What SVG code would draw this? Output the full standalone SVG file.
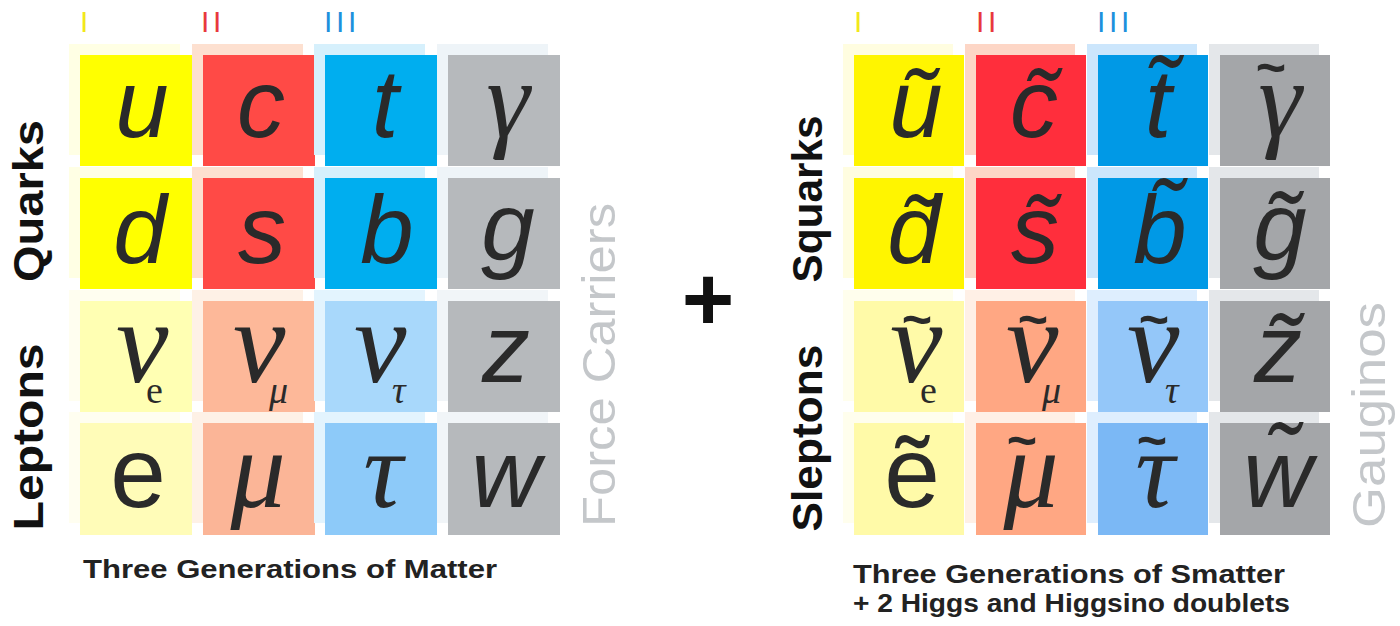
<svg xmlns="http://www.w3.org/2000/svg" width="1400" height="626" viewBox="0 0 1400 626">
<style>
.lat{font-family:"Liberation Sans",Arial,sans-serif;font-style:italic;font-size:96px;fill:#2a2a2a;text-anchor:middle}
.up{font-family:"Liberation Sans",Arial,sans-serif;font-size:100px;fill:#2a2a2a;text-anchor:middle}
.grk{font-family:"Liberation Serif","Times New Roman",serif;font-style:italic;font-size:110px;fill:#2a2a2a}
.nu{font-size:118px}
.grm{text-anchor:middle}
.tl{font-family:"Liberation Sans",Arial,sans-serif;font-weight:bold;font-size:52px;fill:#2a2a2a;text-anchor:middle}
.sub{font-family:"Liberation Serif","Times New Roman",serif;font-size:38px;fill:#2a2a2a}
.subi{font-style:italic}
.gen{font-family:"Liberation Sans",Arial,sans-serif;font-size:30px;letter-spacing:3.7px}
.side{font-family:"Liberation Sans",Arial,sans-serif;font-weight:bold;font-size:42px;fill:#111;text-anchor:middle}
.side2{font-family:"Liberation Sans",Arial,sans-serif;font-size:46px;fill:#c4c7ca;text-anchor:middle}
.cap{font-family:"Liberation Sans",Arial,sans-serif;font-weight:bold;font-size:25px;fill:#222}
</style>

<!-- generation labels -->
<g id="gen-labels-left">
<text class="gen" x="80" y="32" fill="#f2e81a">I</text>
<text class="gen" x="201" y="32" fill="#e8383d">II</text>
<text class="gen" x="324" y="32" fill="#1e90dd">III</text>
</g>
<g id="gen-labels-right">
<text class="gen" x="854" y="32" fill="#f2e81a">I</text>
<text class="gen" x="976" y="32" fill="#e8383d">II</text>
<text class="gen" x="1097" y="32" fill="#1e90dd">III</text>
</g>

<!-- LEFT GRID -->
<g id="left-grid">
<g id="cell-u"><rect x="69" y="44" width="111" height="111" fill="#ffffe4"/><rect x="80" y="55" width="112" height="111" fill="#ffff00"/><text class="lat" x="142" y="137">u</text></g>
<g id="cell-c"><rect x="192" y="44" width="111" height="111" fill="#fde0d0"/><rect x="203" y="55" width="112" height="111" fill="#ff4a46"/><text class="lat" x="261" y="137">c</text></g>
<g id="cell-t"><rect x="314" y="44" width="111" height="111" fill="#d6f0fc"/><rect x="325" y="55" width="112" height="111" fill="#00aeef"/><text class="lat" x="385" y="137">t</text></g>
<g id="cell-gamma"><rect x="437" y="44" width="111" height="111" fill="#eef4f8"/><rect x="448" y="55" width="112" height="111" fill="#b6b9bc"/><text class="grk grm" x="508" y="137">γ</text></g>

<g id="cell-d"><rect x="69" y="167" width="111" height="111" fill="#ffffe4"/><rect x="80" y="178" width="112" height="111" fill="#ffff00"/><text class="lat" x="140" y="263">d</text></g>
<g id="cell-s"><rect x="192" y="167" width="111" height="111" fill="#fde0d0"/><rect x="203" y="178" width="112" height="111" fill="#ff4a46"/><text class="lat" x="262" y="263">s</text></g>
<g id="cell-b"><rect x="314" y="167" width="111" height="111" fill="#d6f0fc"/><rect x="325" y="178" width="112" height="111" fill="#00aeef"/><text class="lat" x="387" y="263">b</text></g>
<g id="cell-g"><rect x="437" y="167" width="111" height="111" fill="#eef4f8"/><rect x="448" y="178" width="112" height="111" fill="#b6b9bc"/><text class="lat" x="508" y="260">g</text></g>

<g id="cell-nue"><rect x="69" y="290" width="111" height="111" fill="#fffef0"/><rect x="80" y="301" width="112" height="111" fill="#ffffb3"/><text class="grk nu" x="116" y="382">ν</text><text class="sub" x="146" y="403">e</text></g>
<g id="cell-numu"><rect x="192" y="290" width="111" height="111" fill="#fef1e6"/><rect x="203" y="301" width="112" height="111" fill="#fdb899"/><text class="grk nu" x="233" y="382">ν</text><text class="sub subi" x="269" y="403">μ</text></g>
<g id="cell-nutau"><rect x="314" y="290" width="111" height="111" fill="#e3f4fe"/><rect x="325" y="301" width="112" height="111" fill="#a8d8fb"/><text class="grk nu" x="354" y="382">ν</text><text class="sub subi" x="392" y="403">τ</text></g>
<g id="cell-z"><rect x="437" y="290" width="111" height="111" fill="#f1f5f8"/><rect x="448" y="301" width="112" height="111" fill="#b6b9bc"/><text class="lat" x="506" y="382">z</text></g>

<g id="cell-e"><rect x="69" y="412" width="111" height="111" fill="#fffef0"/><rect x="80" y="423" width="112" height="112" fill="#fffcb8"/><text class="up" x="138" y="507">e</text></g>
<g id="cell-mu"><rect x="192" y="412" width="111" height="111" fill="#fef1e6"/><rect x="203" y="423" width="112" height="112" fill="#fbb597"/><text class="grk grm" x="258" y="507">μ</text></g>
<g id="cell-tau"><rect x="314" y="412" width="111" height="111" fill="#e3f4fe"/><rect x="325" y="423" width="112" height="112" fill="#8dcaf9"/><text class="grk grm" x="383" y="507">τ</text></g>
<g id="cell-w"><rect x="437" y="412" width="111" height="111" fill="#f1f5f8"/><rect x="448" y="423" width="112" height="112" fill="#b6b9bc"/><text class="lat" x="506" y="507">w</text></g>
</g>

<!-- left side labels -->
<g id="label-quarks"><text class="side" transform="translate(43,201) rotate(-90)" textLength="162" lengthAdjust="spacingAndGlyphs">Quarks</text></g>
<g id="label-leptons"><text class="side" transform="translate(43,437) rotate(-90)" textLength="187" lengthAdjust="spacingAndGlyphs">Leptons</text></g>
<g id="label-force"><text class="side2" transform="translate(615,365) rotate(-90)" textLength="324" lengthAdjust="spacingAndGlyphs">Force Carriers</text></g>
<g id="caption-left"><text class="cap" x="83" y="578" textLength="414" lengthAdjust="spacingAndGlyphs">Three Generations of Matter</text></g>

<!-- plus -->
<g id="plus"><text x="708" y="330" font-family="Liberation Sans, Arial, sans-serif" font-weight="bold" font-size="90" fill="#111" text-anchor="middle">+</text></g>

<!-- RIGHT GRID -->
<g id="right-grid">
<g id="cell-su"><rect x="843" y="44" width="110" height="111" fill="#fffde0"/><rect x="854" y="55" width="110" height="111" fill="#fff500"/><text class="lat" x="916" y="137">ũ</text></g>
<g id="cell-sc"><rect x="965" y="44" width="110" height="111" fill="#fdd6c6"/><rect x="976" y="55" width="110" height="111" fill="#ff2e3c"/><text class="lat" x="1034" y="137">c̃</text></g>
<g id="cell-st"><rect x="1087" y="44" width="110" height="111" fill="#cce6fc"/><rect x="1098" y="55" width="110" height="111" fill="#0099e6"/><text class="lat" x="1158" y="137">t̃</text></g>
<g id="cell-sgamma"><rect x="1209" y="44" width="110" height="111" fill="#e4e7ea"/><rect x="1220" y="55" width="110" height="111" fill="#a4a6a9"/><text class="grk grm" x="1280" y="137">γ</text><text class="tl" x="1271" y="85">~</text></g>

<g id="cell-sd"><rect x="843" y="167" width="110" height="111" fill="#fffde0"/><rect x="854" y="178" width="110" height="111" fill="#fff500"/><text class="lat" x="914" y="263">d̃</text></g>
<g id="cell-ss"><rect x="965" y="167" width="110" height="111" fill="#fdd6c6"/><rect x="976" y="178" width="110" height="111" fill="#ff2e3c"/><text class="lat" x="1035" y="263">s̃</text></g>
<g id="cell-sb"><rect x="1087" y="167" width="110" height="111" fill="#cce6fc"/><rect x="1098" y="178" width="110" height="111" fill="#0099e6"/><text class="lat" x="1160" y="263">b̃</text></g>
<g id="cell-sg"><rect x="1209" y="167" width="110" height="111" fill="#e4e7ea"/><rect x="1220" y="178" width="110" height="111" fill="#a4a6a9"/><text class="lat" x="1280" y="260">g̃</text></g>

<g id="cell-snue"><rect x="843" y="290" width="110" height="111" fill="#fffeed"/><rect x="854" y="301" width="110" height="111" fill="#fffaa8"/><text class="grk nu" x="890" y="382">ν</text><text class="tl" x="917" y="337">~</text><text class="sub" x="920" y="403">e</text></g>
<g id="cell-snumu"><rect x="965" y="290" width="110" height="111" fill="#fff0e6"/><rect x="976" y="301" width="110" height="111" fill="#ffa783"/><text class="grk nu" x="1006" y="382">ν</text><text class="tl" x="1033" y="337">~</text><text class="sub subi" x="1042" y="403">μ</text></g>
<g id="cell-snutau"><rect x="1087" y="290" width="110" height="111" fill="#deeefe"/><rect x="1098" y="301" width="110" height="111" fill="#94c7f9"/><text class="grk nu" x="1127" y="382">ν</text><text class="tl" x="1154" y="337">~</text><text class="sub subi" x="1165" y="403">τ</text></g>
<g id="cell-sz"><rect x="1209" y="290" width="110" height="111" fill="#e4e7ea"/><rect x="1220" y="301" width="110" height="111" fill="#a4a6a9"/><text class="lat" x="1278" y="382">z̃</text></g>

<g id="cell-se"><rect x="843" y="412" width="110" height="111" fill="#fffeed"/><rect x="854" y="423" width="110" height="112" fill="#fffaa8"/><text class="up" x="912" y="507">ẽ</text></g>
<g id="cell-smu"><rect x="965" y="412" width="110" height="111" fill="#fff0e6"/><rect x="976" y="423" width="110" height="112" fill="#ffa783"/><text class="grk grm" x="1031" y="507">μ</text><text class="tl" x="1022" y="458">~</text></g>
<g id="cell-stau"><rect x="1087" y="412" width="110" height="111" fill="#deeefe"/><rect x="1098" y="423" width="110" height="112" fill="#7bb8f5"/><text class="grk grm" x="1155" y="507">τ</text><text class="tl" x="1152" y="458">~</text></g>
<g id="cell-sw"><rect x="1209" y="412" width="110" height="111" fill="#e4e7ea"/><rect x="1220" y="423" width="110" height="112" fill="#a4a6a9"/><text class="lat" x="1278" y="507">w̃</text></g>
</g>

<!-- right side labels -->
<g id="label-squarks"><text class="side" transform="translate(822,199) rotate(-90)" textLength="167" lengthAdjust="spacingAndGlyphs">Squarks</text></g>
<g id="label-sleptons"><text class="side" transform="translate(822,438) rotate(-90)" textLength="187" lengthAdjust="spacingAndGlyphs">Sleptons</text></g>
<g id="label-gauginos"><text class="side2" transform="translate(1385,415) rotate(-90)" textLength="226" lengthAdjust="spacingAndGlyphs">Gauginos</text></g>
<g id="caption-right">
<text class="cap" x="853" y="583" textLength="432" lengthAdjust="spacingAndGlyphs">Three Generations of Smatter</text>
<text class="cap" x="853" y="612" textLength="437" lengthAdjust="spacingAndGlyphs">+ 2 Higgs and Higgsino doublets</text>
</g>
</svg>
